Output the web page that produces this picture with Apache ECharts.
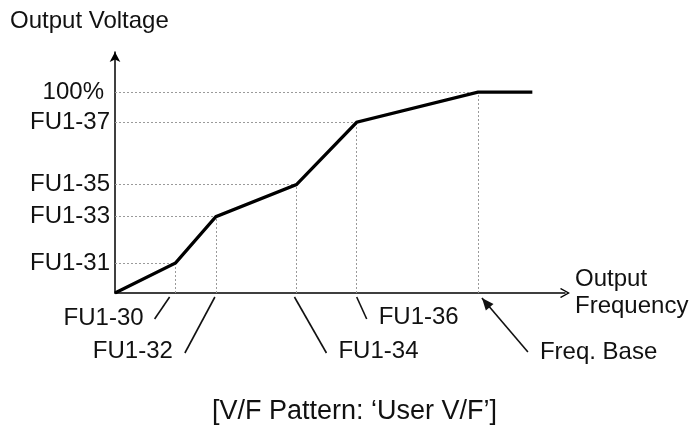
<!DOCTYPE html>
<html>
<head>
<meta charset="utf-8">
<script src="https://cdn.jsdelivr.net/npm/echarts@6/dist/echarts.min.js"></script>
<style>
  html, body { margin: 0; padding: 0; background: #fff; }
  #chart { width: 693px; height: 426px; }
</style>
</head>
<body>
<div id="chart"></div>
<script>
// V/F pattern breakpoints: output frequency (% of base) and output voltage (% of rated)
const freqPoints = [0, 16.7, 27.8, 50, 66.6, 100, 115];
const voltPoints = [0, 15, 38, 54, 85, 100, 100];

// Parameter codes for the intermediate breakpoints
const freqLabels = ['FU1-30', 'FU1-32', 'FU1-34', 'FU1-36', 'Freq. Base'];
const voltLabels = ['FU1-31', 'FU1-33', 'FU1-35', 'FU1-37', '100%'];

const freqMax = 124;
const voltMax = 120;

const FONT = "'Liberation Sans', Arial, Helvetica, sans-serif";
const INK = '#111';
const FS = 24;

const chart = echarts.init(document.getElementById('chart'), null, { renderer: 'canvas' });

const curve = freqPoints.map((f, i) => [f, voltPoints[i]]);

// Dotted guides from each breakpoint back to both axes
const guides = [];
for (let i = 1; i <= 5; i++) {
  guides.push([{ coord: [0, voltPoints[i]] }, { coord: [freqPoints[i], voltPoints[i]] }]);
  guides.push([{ coord: [freqPoints[i], 0] }, { coord: [freqPoints[i], voltPoints[i]] }]);
}

const voltTicks = voltPoints.slice(1, 6);

chart.setOption({
  animation: false,
  backgroundColor: '#fff',
  title: [
    {
      text: 'Output Voltage', left: 10, top: 9, padding: 0,
      textStyle: { fontFamily: FONT, fontSize: FS, fontWeight: 'normal', color: INK }
    },
    {
      text: '[V/F Pattern: \u2018User V/F\u2019]', left: 212, top: 398, padding: 0,
      textStyle: { fontFamily: FONT, fontSize: 27, fontWeight: 'normal', color: INK }
    }
  ],
  grid: { left: 115, right: 128, top: 52, bottom: 133, containLabel: false },
  xAxis: {
    type: 'value', min: 0, max: freqMax,
    name: 'Output\nFrequency', nameLocation: 'end', nameGap: 10,
    nameTextStyle: { fontFamily: FONT, fontSize: FS, color: INK, lineHeight: 27, align: 'left', verticalAlign: 'middle' },
    axisLine: {
      show: true, onZero: false,
      symbol: ['none', 'path://M5,0 L10,9 L9,10 L5,2.6 L1,10 L0,9 Z'],
      symbolSize: [10, 10],
      lineStyle: { color: '#000', width: 1.5 }
    },
    axisTick: { show: false }, axisLabel: { show: false }, splitLine: { show: false }
  },
  yAxis: {
    type: 'value', min: 0, max: voltMax,
    axisLine: {
      show: true, onZero: false,
      symbol: ['none', 'arrow'], symbolSize: [8, 10],
      lineStyle: { color: '#000', width: 1.5 }
    },
    axisTick: { show: false },
    splitLine: { show: false },
    axisLabel: {
      show: true, customValues: voltTicks, margin: 5,
      fontFamily: FONT, fontSize: FS, color: INK,
      formatter: (v) => {
        const k = voltTicks.indexOf(v);
        const s = k >= 0 ? voltLabels[k] : '';
        return s === '100%' ? '{p|' + s + '}' : s;
      },
      rich: { p: { fontFamily: FONT, fontSize: FS, color: INK, padding: [0, 6, 0, 0] } }
    }
  },
  series: [{
    type: 'line',
    data: curve,
    showSymbol: false,
    silent: true,
    lineStyle: { color: '#000', width: 3.2, join: 'miter' },
    z: 5,
    markLine: {
      silent: true,
      symbol: ['none', 'none'],
      label: { show: false },
      lineStyle: { type: [2, 2], color: '#9a9a9a', width: 1 },
      emphasis: { disabled: true },
      data: guides
    }
  }]
});

// Frequency parameter callouts below the axis, placed relative to each breakpoint
const callouts = [
  { lead: [[-6, 4], [-21, 26]], text: [-32, 25], align: 'right' },
  { lead: [[-1, 4], [-31, 60]], text: [-43, 58], align: 'right' },
  { lead: [[-2, 4], [30, 60]], text: [42, 58], align: 'left' },
  { lead: [[0, 4], [10, 26]], text: [22, 24], align: 'left' },
  { lead: [[4, 5], [50, 59]], text: [62, 59], align: 'left', arrow: true }
];

const graphics = [];
callouts.forEach((c, i) => {
  const p = chart.convertToPixel({ gridIndex: 0 }, [freqPoints[i + 1], 0]);
  const x1 = p[0] + c.lead[0][0], y1 = p[1] + c.lead[0][1];
  const x2 = p[0] + c.lead[1][0], y2 = p[1] + c.lead[1][1];
  graphics.push({
    type: 'line', silent: true,
    shape: { x1: x1, y1: y1, x2: x2, y2: y2 },
    style: { stroke: '#111', lineWidth: 1.6 }
  });
  if (c.arrow) {
    const ang = Math.atan2(y1 - y2, x1 - x2);
    const L = 12, W = 5;
    const bx = x1 - L * Math.cos(ang), by = y1 - L * Math.sin(ang);
    const nx = -Math.sin(ang), ny = Math.cos(ang);
    graphics.push({
      type: 'polygon', silent: true,
      shape: { points: [[x1, y1], [bx + nx * W, by + ny * W], [bx - nx * W, by - ny * W]] },
      style: { fill: '#111' }
    });
  }
  graphics.push({
    type: 'text', silent: true,
    x: p[0] + c.text[0], y: p[1] + c.text[1],
    style: {
      text: freqLabels[i], font: FS + 'px ' + FONT, fill: INK,
      align: c.align, verticalAlign: 'middle'
    }
  });
});

chart.setOption({ graphic: graphics });
</script>
</body>
</html>
